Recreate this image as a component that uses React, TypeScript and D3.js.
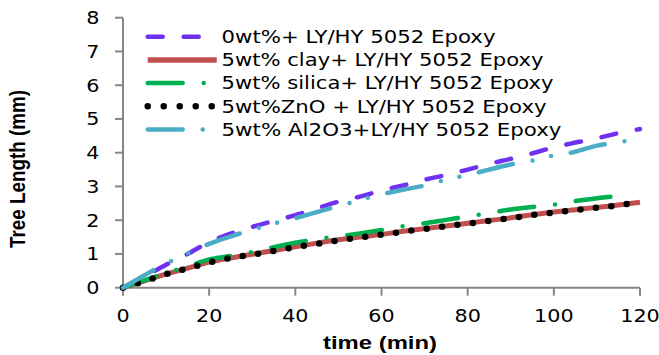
import React from "react";
import * as d3 from "d3";

const times = [0, 5, 10, 15, 20, 25, 30, 35, 40, 45, 50, 55, 60, 65, 70, 75, 80, 85, 90, 95, 100, 105, 110, 115, 120];
const endTimes = [120, 120, 117, 118, 118];

const epoxy0 = [0, 0.33, 0.68, 1.0, 1.35, 1.6, 1.8, 1.98, 2.15, 2.35, 2.55, 2.7, 2.88, 3.03, 3.2, 3.34, 3.5, 3.67, 3.82, 3.98, 4.16, 4.3, 4.43, 4.58, 4.7];
const clay = [0, 0.2, 0.4, 0.58, 0.76, 0.88, 0.99, 1.1, 1.21, 1.32, 1.42, 1.5, 1.58, 1.67, 1.75, 1.83, 1.91, 1.99, 2.07, 2.16, 2.24, 2.31, 2.38, 2.45, 2.53];
const silica = [0, 0.22, 0.43, 0.63, 0.84, 0.94, 1.06, 1.2, 1.33, 1.44, 1.52, 1.61, 1.71, 1.82, 1.91, 2.01, 2.11, 2.21, 2.32, 2.39, 2.46, 2.57, 2.65, 2.72, 2.74];
const zno = [0, 0.19, 0.4, 0.57, 0.75, 0.88, 0.98, 1.09, 1.2, 1.3, 1.4, 1.49, 1.57, 1.66, 1.74, 1.82, 1.9, 1.98, 2.06, 2.15, 2.23, 2.3, 2.37, 2.44, 2.5];
const al2o3 = [0, 0.37, 0.72, 1.02, 1.3, 1.52, 1.72, 1.9, 2.06, 2.24, 2.42, 2.6, 2.77, 2.9, 3.03, 3.2, 3.34, 3.5, 3.65, 3.77, 3.92, 4.03, 4.21, 4.31, 4.37];

const seriesNames = [
  "0wt%+ LY/HY 5052 Epoxy",
  "5wt% clay+ LY/HY 5052 Epoxy",
  "5wt% silica+ LY/HY 5052 Epoxy",
  "5wt%ZnO + LY/HY 5052 Epoxy",
  "5wt% Al2O3+LY/HY 5052 Epoxy",
];
const seriesValues = [epoxy0, clay, silica, zno, al2o3];
const seriesColors = ["#7030F0", "#C0504D", "#00B050", "#000000", "#4BACC6"];
const legendWidths = [274, 322, 332, 325, 340];

const xTicks = [0, 20, 40, 60, 80, 100, 120];
const yTicks = [0, 1, 2, 3, 4, 5, 6, 7, 8];

const styles = [
  { w: 4.5, dash: "15 21", cap: "round" },
  { w: 5, dash: "none", cap: "butt" },
  { w: 4.5, dash: "35 21 0 21", cap: "round" },
  { w: 6.5, dash: "0 15.5", cap: "round" },
  { w: 4.5, dash: "35 20 0 19 0 20", cap: "round" },
];

export default function App() {
  const W = 659, H = 355;
  const x = d3.scaleLinear().domain([0, 120]).range([123, 640]);
  const y = d3.scaleLinear().domain([0, 8]).range([287.7, 17.7]);
  const line = d3
    .line<[number, number]>()
    .x((d) => x(d[0]))
    .y((d) => y(d[1]))
    .curve(d3.curveMonotoneX);

  const axisColor = "#868686";
  const font = "DejaVu Sans, Verdana, sans-serif";

  return (
    <svg width={W} height={H} style={{ position: "absolute", left: 0, top: 0, background: "#fff" }}>
      <rect width={W} height={H} fill="#fff" />
      {/* axes */}
      <line x1={x(0)} x2={x(0)} y1={y(8)} y2={y(0)} stroke={axisColor} strokeWidth={2} />
      <line x1={x(0)} x2={x(120)} y1={y(0)} y2={y(0)} stroke={axisColor} strokeWidth={2} />
      {yTicks.map((t) => (
        <g key={"y" + t}>
          <line x1={x(0) - 8} x2={x(0)} y1={y(t)} y2={y(t)} stroke={axisColor} strokeWidth={2} />
          <text
            transform={`translate(99.5,${y(t) + 6.5}) scale(1.15,1)`}
            textAnchor="end"
            fontFamily={font}
            fontSize={18}
            fill="#000"
          >
            {t}
          </text>
        </g>
      ))}
      {xTicks.map((t) => (
        <g key={"x" + t}>
          <line x1={x(t)} x2={x(t)} y1={y(0)} y2={y(0) + 8} stroke={axisColor} strokeWidth={2} />
          <text
            transform={`translate(${x(t)},321.5) scale(1.15,1)`}
            textAnchor="middle"
            fontFamily={font}
            fontSize={18}
            fill="#000"
          >
            {t}
          </text>
        </g>
      ))}
      {/* axis titles */}
      <text
        transform={`translate(25,169) rotate(-90) scale(1,1.16)`}
        textAnchor="middle"
        fontFamily="Liberation Sans, Arial, sans-serif"
        fontWeight="bold"
        fontSize={18.5}
        textLength={158}
        lengthAdjust="spacingAndGlyphs"
        fill="#000"
      >
        Tree Length (mm)
      </text>
      <text
        x={380}
        y={349}
        textAnchor="middle"
        fontFamily="Liberation Sans, Arial, sans-serif"
        fontWeight="bold"
        fontSize={19}
        textLength={114}
        lengthAdjust="spacingAndGlyphs"
        fill="#000"
      >
        time (min)
      </text>
      {/* series */}
      {seriesValues.map((vals, i) => {
        const pts: [number, number][] = vals.map((v, j) => [j === vals.length - 1 ? endTimes[i] : times[j], v]);
        return (
          <path
            key={"s" + i}
            d={line(pts) || ""}
            fill="none"
            stroke={seriesColors[i]}
            strokeWidth={styles[i].w}
            strokeDasharray={styles[i].dash}
            strokeLinecap={styles[i].cap as any}
          />
        );
      })}
      {/* legend */}
      {seriesNames.map((name, i) => {
        const ly = 36.7 + i * 23.2;
        return (
          <g key={"l" + i}>
            <line
              x1={147.7}
              x2={i === 1 ? 216.7 : 214}
              y1={ly}
              y2={ly}
              stroke={seriesColors[i]}
              strokeWidth={i === 1 ? 5.5 : styles[i].w}
              strokeDasharray={i === 3 ? "0 16" : styles[i].dash}
              strokeLinecap={(i === 1 ? "butt" : styles[i].cap) as any}
            />
            <text
              x={221.5}
              y={ly + 6.3}
              fontFamily={font}
              fontSize={18}
              textLength={legendWidths[i]}
              lengthAdjust="spacingAndGlyphs"
              fill="#000"
            >
              {name}
            </text>
          </g>
        );
      })}
    </svg>
  );
}
